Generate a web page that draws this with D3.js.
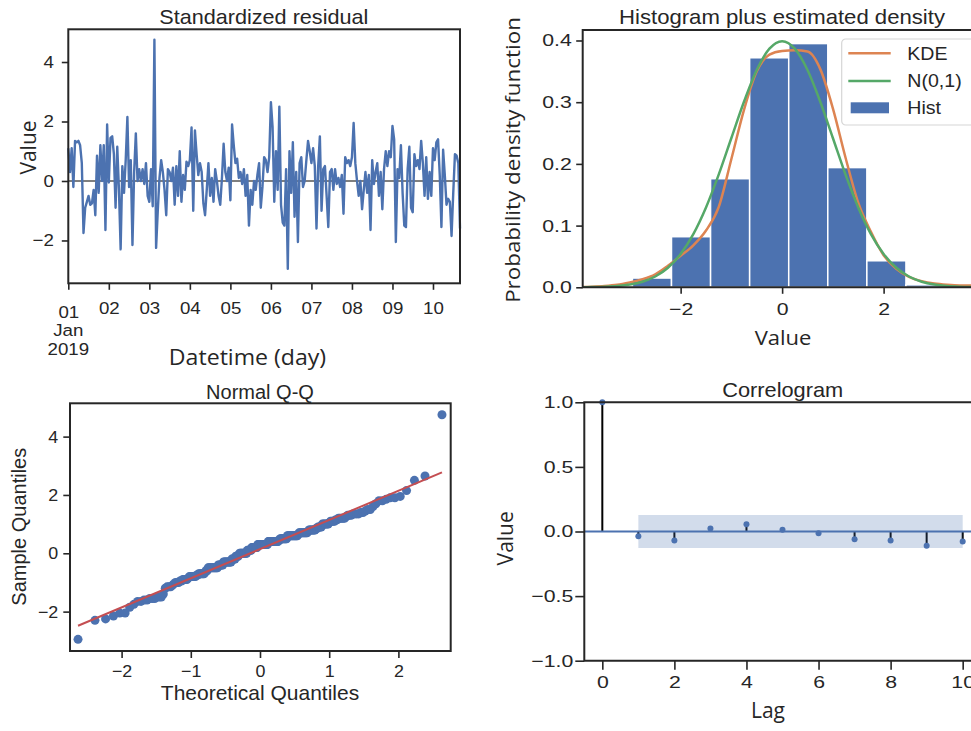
<!DOCTYPE html>
<html>
<head>
<meta charset="utf-8">
<script src="https://cdn.jsdelivr.net/npm/d3@7"></script>
<style>
body { margin: 0; background: #fff; }
text { font-family: "Liberation Sans", Arial, sans-serif; fill: #262626; }
.lbl { font-family: "Open Sans", "Noto Sans", sans-serif; }
</style>
</head>
<body>
<div id="chart"></div>
<script>
// standardized residuals, hourly from 2019-01-01 00:00 (one array per day)
var residDay0 = [1.1, 0.3, 1.1, -0.2, 1.35, 1.3, 1.35, 1.2, 0.6, -1.75, -0.9, -0.7, -0.5, -0.8, -0.75, -0.3, -1.15, 0.85, -0.4, 1.2, 0.0, 1.2, -1.65, 1.9];
var residDay1 = [-0.05, 1.45, 1.5, 0.9, -0.9, 1.15, -0.3, -2.3, 0.5, -0.4, 0.7, 2.15, -0.2, 0.7, -2.15, 0.3, 1.6, 0.0, 0.4, 0.0, 0.4, -0.1, 0.6, -0.5];
var residDay2 = [-0.7, 0.4, -0.85, 4.75, -2.25, -1.0, 0.1, 0.7, 0.3, -0.3, -1.15, 0.4, 0.3, 0.0, 0.45, -0.8, 0.5, -0.5, 1.0, -0.7, 0.2, -0.3, 0.65, 0.5];
var residDay3 = [0.7, 1.8, -1.0, 1.7, 0.9, 0.2, 0.6, 0.3, -0.75, -1.15, -0.3, 0.6, -0.5, 0.1, -0.7, 0.4, 0.0, -0.5, -0.8, 0.1, 1.25, 0.3, 0.0, 0.45];
var residDay4 = [-0.65, 1.9, 1.2, 0.6, 0.75, 0.1, 0.3, -0.1, 0.4, -0.5, 0.2, -1.5, -0.3, -0.8, 0.0, -0.3, 0.2, 0.6, -0.9, -0.2, 0.8, 0.7, 0.3, 0.8];
var residDay5 = [2.65, 1.8, -0.7, 1.0, -0.3, 2.5, -0.8, -1.4, -1.5, 0.4, -2.95, 1.0, -0.4, 1.3, -1.2, 0.3, -2.05, 0.6, 0.8, -0.2, 0.0, 0.7, 1.35, 1.0];
var residDay6 = [0.6, 1.1, 0.5, -1.6, 0.5, 1.5, -1.0, 0.4, 0.5, -0.5, -1.55, 0.3, 0.4, -0.3, 0.4, -0.1, 0.1, -0.2, 0.2, -1.1, 0.8, 0.6, 0.7, 0.5];
var residDay7 = [0.8, 1.95, 0.6, 0.0, -0.5, 0.0, -0.95, -0.3, 0.3, -0.4, 0.2, -1.65, 0.7, -0.1, 0.3, 0.6, -0.5, 0.3, -0.95, 0.4, 1.0, 0.5, 1.0, 0.8];
var residDay8 = [1.85, 1.4, -2.05, 0.4, 0.1, 1.2, -0.4, -1.5, -1.55, 0.4, 1.15, -0.9, -1.05, 0.9, 0.5, 0.7, 0.4, 1.35, 0.6, -0.5, 0.8, -0.6, 0.3, -0.5];
var residDay9 = [1.1, 0.7, 1.3, 1.4, 0.2, -1.55, 1.05, 0.2, -0.8, -0.6, -0.7, -1.85, -0.4, 0.9, 0.85, 0.6, -1.6];
var dayTicks = ["01", "02", "03", "04", "05", "06", "07", "08", "09", "10"];
var dateSubLines = ["Jan", "2019"];

// histogram (density) as read
var histEdges = [-2.95, -2.18, -1.41, -0.64, 0.13, 0.90, 1.67, 2.44, 3.21, 3.98, 4.75];
var histDensity = [0.015, 0.082, 0.176, 0.372, 0.395, 0.194, 0.043, 0.004, 0, 0.0056];

// density curves sampled on a grid
var densityGrid = [-4, -3.75, -3.5, -3.25, -3, -2.75, -2.5, -2.25, -2, -1.75, -1.5, -1.25, -1, -0.75, -0.5, -0.25,
                   0, 0.25, 0.5, 0.75, 1, 1.25, 1.5, 1.75, 2, 2.25, 2.5, 2.75, 3, 3.25, 3.5, 3.75, 4];
var kdeValues = [0.0005, 0.001, 0.002, 0.004, 0.008, 0.013, 0.021, 0.035, 0.051, 0.068, 0.092, 0.130, 0.208, 0.288, 0.350, 0.377,
                 0.383, 0.384, 0.382, 0.354, 0.290, 0.210, 0.137, 0.090, 0.052, 0.030, 0.017, 0.010, 0.006, 0.004, 0.003, 0.003, 0.003];
var normValues = [0.0001, 0.0004, 0.0009, 0.002, 0.0044, 0.0091, 0.0175, 0.0317, 0.054, 0.0863, 0.1295, 0.1826, 0.242, 0.3011, 0.3521, 0.3867,
                  0.3989, 0.3867, 0.3521, 0.3011, 0.242, 0.1826, 0.1295, 0.0863, 0.054, 0.0317, 0.0175, 0.0091, 0.0044, 0.002, 0.0009, 0.0004, 0.0001];
var legendLabels = ["KDE", "N(0,1)", "Hist"];

// correlogram
var acfLags = [0, 1, 2, 3, 4, 5, 6, 7, 8, 9, 10];
var acfValues = [1.0, -0.036, -0.07, 0.023, 0.057, 0.013, -0.013, -0.06, -0.07, -0.11, -0.077];
var acfConf = 0.128;

var blue = "#4c72b0", orange = "#dd8452", green = "#55a868", red = "#c44e52", ink = "#262626";

var residuals = [].concat(residDay0, residDay1, residDay2, residDay3, residDay4,
                          residDay5, residDay6, residDay7, residDay8, residDay9);

var svg = d3.select("#chart").append("svg")
    .attr("width", 971)
    .attr("height", 731);

// the reference image is a little stretched sideways, so tick text gets a horizontal scale
function styleAxis(g, fontSize, sx) {
  g.select(".domain").remove();
  g.selectAll(".tick line").attr("stroke", ink).attr("stroke-width", 1.6);
  g.selectAll(".tick text").each(function() {
    var t = d3.select(this);
    var x = +t.attr("x") || 0;
    t.attr("x", x / sx)
     .attr("transform", "scale(" + sx + ",1)")
     .attr("fill", ink)
     .style("font-size", fontSize + "px")
     .style("font-family", '"Liberation Sans", Arial, sans-serif');
  });
}

function rotLabel(text, x, y, size, cls, sx) {
  svg.append("text")
      .attr("class", cls)
      .attr("transform", "translate(" + x + "," + y + ") rotate(-90) scale(" + (sx || 1) + ",1)")
      .attr("text-anchor", "middle")
      .style("font-size", size + "px")
      .text(text);
}

function label(text, x, y, size, cls, sx) {
  svg.append("text")
      .attr("class", cls)
      .attr("transform", "translate(" + x + "," + y + ") scale(" + (sx || 1) + ",1)")
      .attr("text-anchor", "middle")
      .style("font-size", size + "px")
      .text(text);
}

//---------------- Standardized residual ----------------
var t0 = Date.UTC(2019, 0, 1);
var residDates = residuals.map(function(d, i) { return new Date(t0 + i * 3600e3); });
var dayDates = dayTicks.map(function(d, i) { return new Date(t0 + i * 86400e3); });

var x1 = d3.scaleUtc().domain(d3.extent(residDates)).range([68.3, 460]);
var y1 = d3.scaleLinear().domain([-3.44, 5.1]).range([283.3, 29.3]);

svg.append("line")
    .attr("x1", 68.3).attr("x2", 460)
    .attr("y1", y1(0)).attr("y2", y1(0))
    .attr("stroke", "#7f7f7f")
    .attr("stroke-width", 2);

svg.append("path")
    .datum(residuals)
    .attr("d", d3.line().x(function(d, i) { return x1(residDates[i]); }).y(function(d) { return y1(d); }))
    .attr("fill", "none")
    .attr("stroke", blue)
    .attr("stroke-width", 2.4)
    .attr("stroke-linejoin", "round");

svg.append("rect")
    .attr("x", 68.3).attr("y", 29.3)
    .attr("width", 460 - 68.3).attr("height", 283.3 - 29.3)
    .attr("fill", "none").attr("stroke", ink).attr("stroke-width", 2);

var ax1 = svg.append("g")
    .attr("transform", "translate(0,283.3)")
    .call(d3.axisBottom(x1).tickValues(dayDates)
          .tickFormat(function(d, i) { return dayTicks[i]; })
          .tickSize(6.5).tickPadding(12.5))
    .call(styleAxis, 17, 1.1);
ax1.select(".tick text").attr("y", 22.5);
dateSubLines.forEach(function(s, i) {
  ax1.append("text")
      .attr("transform", "translate(" + x1(dayDates[0]) + "," + (53 + i * 18.3) + ") scale(1.1,1)")
      .attr("text-anchor", "middle")
      .style("font-size", "17px")
      .text(s);
});

svg.append("g")
    .attr("transform", "translate(68.3,0)")
    .call(d3.axisLeft(y1).tickValues([-2, 0, 2, 4]).tickFormat(d3.format("d")).tickSize(6.5).tickPadding(8))
    .call(styleAxis, 17, 1.1);

label("Standardized residual", 263.8, 24, 20.5, null, 1.055);
label("Datetime (day)", 247.5, 365, 21, "lbl", 1.1);
rotLabel("Value", 36, 147.5, 21, "lbl");

//---------------- Histogram plus estimated density ----------------
var x2 = d3.scaleLinear().domain([-3.93, 4.0]).range([582.7, 985.1]);
var y2 = d3.scaleLinear().domain([0, 0.417]).range([287.3, 30]);

svg.append("clipPath").attr("id", "clip2")
  .append("rect").attr("x", 582.7).attr("y", 30).attr("width", 402.4).attr("height", 257.3);

var histBins = histDensity.map(function(d, i) { return { x0: histEdges[i], x1: histEdges[i + 1], d: d }; })
    .filter(function(b) { return b.d > 0; });

svg.append("g").attr("clip-path", "url(#clip2)")
  .selectAll("rect").data(histBins).enter().append("rect")
    .attr("x", function(b) { return x2(b.x0); })
    .attr("width", function(b) { return x2(b.x1) - x2(b.x0); })
    .attr("y", function(b) { return y2(b.d); })
    .attr("height", function(b) { return y2(0) - y2(b.d); })
    .attr("fill", blue)
    .attr("stroke", "#fff")
    .attr("stroke-width", 1.5);

var densLine = d3.line().curve(d3.curveMonotoneX)
    .x(function(d, i) { return x2(densityGrid[i]); })
    .y(function(d) { return y2(d); });

var curves = svg.append("g").attr("clip-path", "url(#clip2)");
curves.append("path").datum(kdeValues).attr("d", densLine)
    .attr("fill", "none").attr("stroke", orange).attr("stroke-width", 2.5);
curves.append("path").datum(normValues).attr("d", densLine)
    .attr("fill", "none").attr("stroke", green).attr("stroke-width", 2.5);

svg.append("path")
    .attr("d", "M971,30H582.7V287.3H971")
    .attr("fill", "none").attr("stroke", ink).attr("stroke-width", 2);

svg.append("g")
    .attr("transform", "translate(0,287.3)")
    .call(d3.axisBottom(x2).tickValues([-2, 0, 2]).tickFormat(d3.format("d")).tickSize(6.5).tickPadding(9))
    .call(styleAxis, 17, 1.25);
svg.append("g")
    .attr("transform", "translate(582.7,0)")
    .call(d3.axisLeft(y2).tickValues([0, 0.1, 0.2, 0.3, 0.4]).tickFormat(d3.format(".1f")).tickSize(6.5).tickPadding(4.5))
    .call(styleAxis, 17, 1.25);

// legend
var leg = svg.append("g").attr("transform", "translate(841.7,39)");
leg.append("rect")
    .attr("width", 140).attr("height", 86).attr("rx", 4)
    .attr("fill", "#fff").attr("fill-opacity", 0.85)
    .attr("stroke", "#d6d6d6").attr("stroke-width", 1.2);
[orange, green].forEach(function(c, i) {
  leg.append("line")
      .attr("x1", 6.6).attr("x2", 49)
      .attr("y1", 14.3 + i * 27.7).attr("y2", 14.3 + i * 27.7)
      .attr("stroke", c).attr("stroke-width", 2.5);
});
leg.append("rect")
    .attr("x", 9).attr("y", 63.3).attr("width", 38.3).attr("height", 11)
    .attr("fill", blue);
legendLabels.forEach(function(s, i) {
  leg.append("text")
      .attr("transform", "translate(65.6," + (14.3 + i * 27 + 6.3) + ") scale(1.12,1)")
      .style("font-size", "17.5px")
      .text(s);
});

label("Histogram plus estimated density", 782, 24, 20.5, null, 1.08);
label("Value", 783, 345, 20, "lbl", 1.1);
rotLabel("Probability density function", 520, 160, 20, "lbl", 1.12);

//---------------- Normal Q-Q ----------------
// inverse standard normal CDF (Acklam), gives the theoretical quantiles
function normInv(p) {
  var a = [-3.969683028665376e+01, 2.209460984245205e+02, -2.759285104469687e+02, 1.383577518672690e+02, -3.066479806614716e+01, 2.506628277459239e+00];
  var b = [-5.447609879822406e+01, 1.615858368580409e+02, -1.556989798598866e+02, 6.680131188771972e+01, -1.328068155288572e+01];
  var c = [-7.784894002430293e-03, -3.223964580411365e-01, -2.400758277161838e+00, -2.549732539343734e+00, 4.374664141464968e+00, 2.938163982698783e+00];
  var d = [7.784695709041462e-03, 3.224671290700398e-01, 2.445134137142996e+00, 3.754408661907416e+00];
  var q, r;
  if (p < 0.02425 || p > 1 - 0.02425) {
    q = Math.sqrt(-2 * Math.log(p < 0.5 ? p : 1 - p));
    var v = (((((c[0] * q + c[1]) * q + c[2]) * q + c[3]) * q + c[4]) * q + c[5]) /
            ((((d[0] * q + d[1]) * q + d[2]) * q + d[3]) * q + 1);
    return p < 0.5 ? v : -v;
  }
  q = p - 0.5; r = q * q;
  return (((((a[0] * r + a[1]) * r + a[2]) * r + a[3]) * r + a[4]) * r + a[5]) * q /
         (((((b[0] * r + b[1]) * r + b[2]) * r + b[3]) * r + b[4]) * r + 1);
}

var sorted = residuals.slice().sort(d3.ascending);
var n = sorted.length;
var qq = sorted.map(function(s, i) { return { t: normInv((i + 1) / (n + 1)), s: s }; });

// least squares line through the Q-Q points
var mt = d3.mean(qq, function(d) { return d.t; }), ms = d3.mean(qq, function(d) { return d.s; });
var slope = d3.sum(qq, function(d) { return (d.t - mt) * (d.s - ms); }) / d3.sum(qq, function(d) { return (d.t - mt) * (d.t - mt); });
var icpt = ms - slope * mt;

var x3 = d3.scaleLinear().domain([-2.75, 2.75]).range([69.7, 450.3]);
var y3 = d3.scaleLinear().domain([-3.35, 5.142]).range([651, 403.3]);

svg.append("g").selectAll("circle").data(qq).enter().append("circle")
    .attr("cx", function(d) { return x3(d.t); })
    .attr("cy", function(d) { return y3(d.s); })
    .attr("r", 4.5)
    .attr("fill", blue);

var tEnds = d3.extent(qq, function(d) { return d.t; });
svg.append("line")
    .attr("x1", x3(tEnds[0])).attr("y1", y3(icpt + slope * tEnds[0]))
    .attr("x2", x3(tEnds[1])).attr("y2", y3(icpt + slope * tEnds[1]))
    .attr("stroke", red).attr("stroke-width", 2);

svg.append("rect")
    .attr("x", 70).attr("y", 403.3)
    .attr("width", 450.7 - 70).attr("height", 651 - 403.3)
    .attr("fill", "none").attr("stroke", ink).attr("stroke-width", 2);

svg.append("g")
    .attr("transform", "translate(0,651)")
    .call(d3.axisBottom(x3).tickValues([-2, -1, 0, 1, 2]).tickFormat(d3.format("d")).tickSize(7).tickPadding(7))
    .call(styleAxis, 17, 1.05);
svg.append("g")
    .attr("transform", "translate(70,0)")
    .call(d3.axisLeft(y3).tickValues([-2, 0, 2, 4]).tickFormat(d3.format("d")).tickSize(6.7).tickPadding(5))
    .call(styleAxis, 17, 1.05);

label("Normal Q-Q", 260, 398.5, 20);
label("Theoretical Quantiles", 260, 699.5, 20, null, 1.05);
rotLabel("Sample Quantiles", 26, 526.7, 20);

//---------------- Correlogram ----------------
var x4 = d3.scaleLinear().domain([-0.5, 10.5]).range([584.3, 980.7]);
var y4 = d3.scaleLinear().domain([-1, 1]).range([660.7, 402.3]);

svg.append("g").selectAll("line").data(acfLags).enter().append("line")
    .attr("x1", function(d) { return x4(d); }).attr("x2", function(d) { return x4(d); })
    .attr("y1", y4(0)).attr("y2", function(d, i) { return y4(acfValues[i]); })
    .attr("stroke", "#000").attr("stroke-width", 2);

svg.append("g").selectAll("circle").data(acfLags).enter().append("circle")
    .attr("cx", function(d) { return x4(d); })
    .attr("cy", function(d, i) { return y4(acfValues[i]); })
    .attr("r", 3)
    .attr("fill", blue);

svg.append("line")
    .attr("x1", 584.3).attr("x2", 971)
    .attr("y1", y4(0)).attr("y2", y4(0))
    .attr("stroke", blue).attr("stroke-width", 2);

var bandLags = acfLags.slice(1);
svg.append("path")
    .datum(bandLags)
    .attr("d", d3.area()
        .x(function(d) { return x4(d); })
        .y0(y4(-acfConf))
        .y1(y4(acfConf)))
    .attr("fill", blue)
    .attr("fill-opacity", 0.25);

svg.append("path")
    .attr("d", "M971,402.3H584.3V660.7H971")
    .attr("fill", "none").attr("stroke", ink).attr("stroke-width", 2);

svg.append("g")
    .attr("transform", "translate(0,660.7)")
    .call(d3.axisBottom(x4).tickValues([0, 2, 4, 6, 8, 10]).tickFormat(d3.format("d")).tickSize(9).tickPadding(6))
    .call(styleAxis, 17, 1.25);
svg.append("g")
    .attr("transform", "translate(584.3,0)")
    .call(d3.axisLeft(y4).tickValues([-1, -0.5, 0, 0.5, 1]).tickFormat(d3.format(".1f")).tickSize(9).tickPadding(2))
    .call(styleAxis, 17, 1.25);

label("Correlogram", 782.7, 397, 20, null, 1.09);
label("Lag", 768, 718, 21, "lbl");
rotLabel("Value", 513, 538.3, 21, "lbl");
</script>
</body>
</html>
